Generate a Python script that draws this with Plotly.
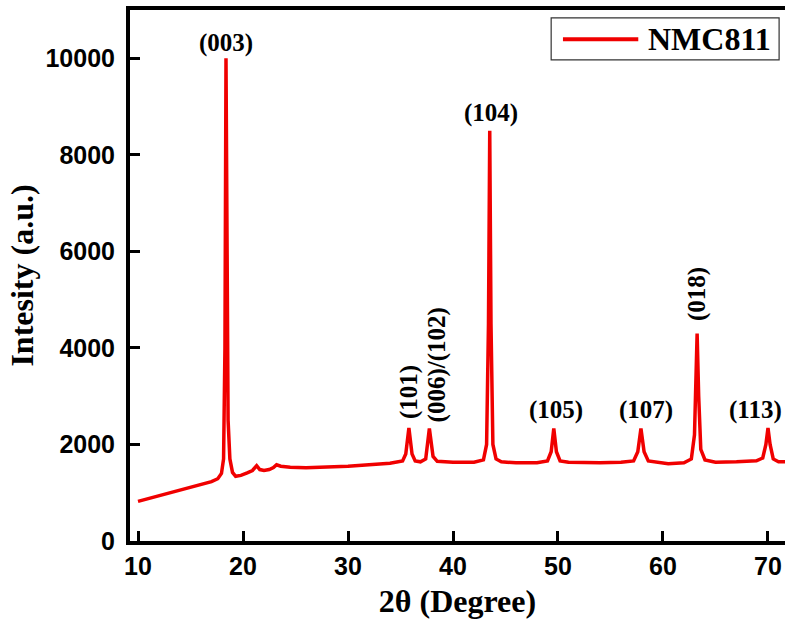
import plotly.graph_objects as go

# ---- data ----
two_theta = [10, 12, 14, 16, 17, 17.6, 17.95, 18.15, 18.28, 18.38, 18.48, 18.58, 18.75, 19.0, 19.3,
             19.8, 20.4, 20.9, 21.3, 21.6, 22.0, 22.5, 22.9, 23.2, 23.6, 24.5, 26, 28, 30, 32, 34,
             35.2, 35.5, 35.8, 36.1, 36.4, 36.9, 37.4, 37.75, 38.1, 38.5, 40, 42, 42.9, 43.2, 43.38,
             43.5, 43.62, 43.8, 44.1, 44.6, 46, 48, 49.0, 49.35, 49.6, 49.85, 50.2, 51, 54, 56, 57.2,
             57.6, 57.9, 58.2, 58.6, 59.5, 60.5, 62, 62.7, 63.0, 63.15, 63.25, 63.4, 63.6, 64.0, 65,
             67, 68.9, 69.5, 69.8, 70.0, 70.2, 70.5, 71, 72]
intensity = [820, 940, 1060, 1170, 1230, 1290, 1400, 1700, 4000, 10000, 6000, 2500, 1700, 1420, 1340,
             1360, 1410, 1460, 1560, 1480, 1460, 1480, 1520, 1580, 1550, 1530, 1520, 1530, 1550, 1580, 1610,
             1660, 1800, 2340, 1800, 1660, 1640, 1700, 2330, 1750, 1650, 1630, 1630, 1680, 2000, 4500,
             8500, 4500, 2000, 1700, 1640, 1620, 1620, 1660, 1850, 2330, 1850, 1660, 1630, 1620, 1630, 1660,
             1850, 2330, 1850, 1660, 1630, 1600, 1620, 1700, 2200, 3800, 4300, 3000, 1900, 1680, 1630,
             1640, 1660, 1720, 2000, 2340, 2000, 1700, 1640, 1640]

peak_labels = ["(003)", "(101)", "(006)/(102)", "(104)", "(105)", "(107)", "(018)", "(113)"]
label_x = [18.4, 35.8, 38.5, 43.6, 49.8, 58.4, 63.3, 68.8]
label_y = [10325, 3083, 3642, 8876, 2710, 2710, 5110, 2710]
label_angle = [0, -90, -90, 0, 0, 0, -90, 0]

x_ticks = [10, 20, 30, 40, 50, 60, 70]
y_ticks = [0, 2000, 4000, 6000, 8000, 10000]
y_tick_text = ["0", "2000", "4000", "6000", "8000", "10000"]

series_name = "NMC811"
x_title = "2θ (Degree)"
y_title = "Intesity (a.u.)"

RED = "rgb(240,0,0)"
SERIF = "Liberation Serif"
SANS = "Liberation Sans"

fig = go.Figure()
fig.add_trace(go.Scatter(x=two_theta, y=intensity, mode="lines", name=series_name,
                         line=dict(color=RED, width=3.5), showlegend=False))

for t, xx, yy, a in zip(peak_labels, label_x, label_y, label_angle):
    fig.add_annotation(x=xx, y=yy, text=t, textangle=a, showarrow=False,
                       xanchor="center", yanchor="middle",
                       font=dict(family=SERIF, size=25, color="black", weight="bold"))

# manual legend box (paper coords of plot area 130..785 x 10..541 px)
fig.add_shape(type="rect", xref="paper", yref="paper", x0=0.643, x1=0.991, y0=0.906, y1=0.985,
              line=dict(color="#333333", width=1.2), fillcolor="white", layer="above")
fig.add_shape(type="line", xref="paper", yref="paper", x0=0.661, x1=0.776, y0=0.945, y1=0.945,
              line=dict(color=RED, width=4), layer="above")
fig.add_annotation(xref="paper", yref="paper", x=0.788, y=0.945, text=series_name, showarrow=False,
                   xanchor="left", yanchor="middle",
                   font=dict(family=SERIF, size=32, color="black", weight="bold"))

fig.update_layout(
    width=785, height=626,
    margin=dict(l=130, r=0, t=10, b=85, pad=0),
    paper_bgcolor="white", plot_bgcolor="white",
    xaxis=dict(range=[9.238, 71.62], tickvals=x_ticks, ticks="inside", ticklen=10, tickwidth=3,
               tickcolor="black", showline=True, linecolor="black", linewidth=4, mirror=True,
               showgrid=False, zeroline=False, automargin=False,
               tickfont=dict(family=SANS, size=25, color="black", weight="bold"),
               title=dict(text=x_title, font=dict(family=SERIF, size=32, color="black", weight="bold"),
                          standoff=12)),
    yaxis=dict(range=[0, 11000], tickvals=y_ticks, ticktext=y_tick_text, ticks="inside", ticklen=10,
               tickwidth=3, ticklabelstandoff=6,
               tickcolor="black", showline=True, linecolor="black", linewidth=4, mirror=False,
               showgrid=False, zeroline=False, automargin=False,
               tickfont=dict(family=SANS, size=25, color="black", weight="bold"),
               title=dict(text=y_title, font=dict(family=SERIF, size=32, color="black", weight="bold"),
                          standoff=3)),
)

fig.write_html("out.html", config={"displayModeBar": False},
               post_script="document.body.style.margin='0px';document.body.style.overflow='hidden';")
